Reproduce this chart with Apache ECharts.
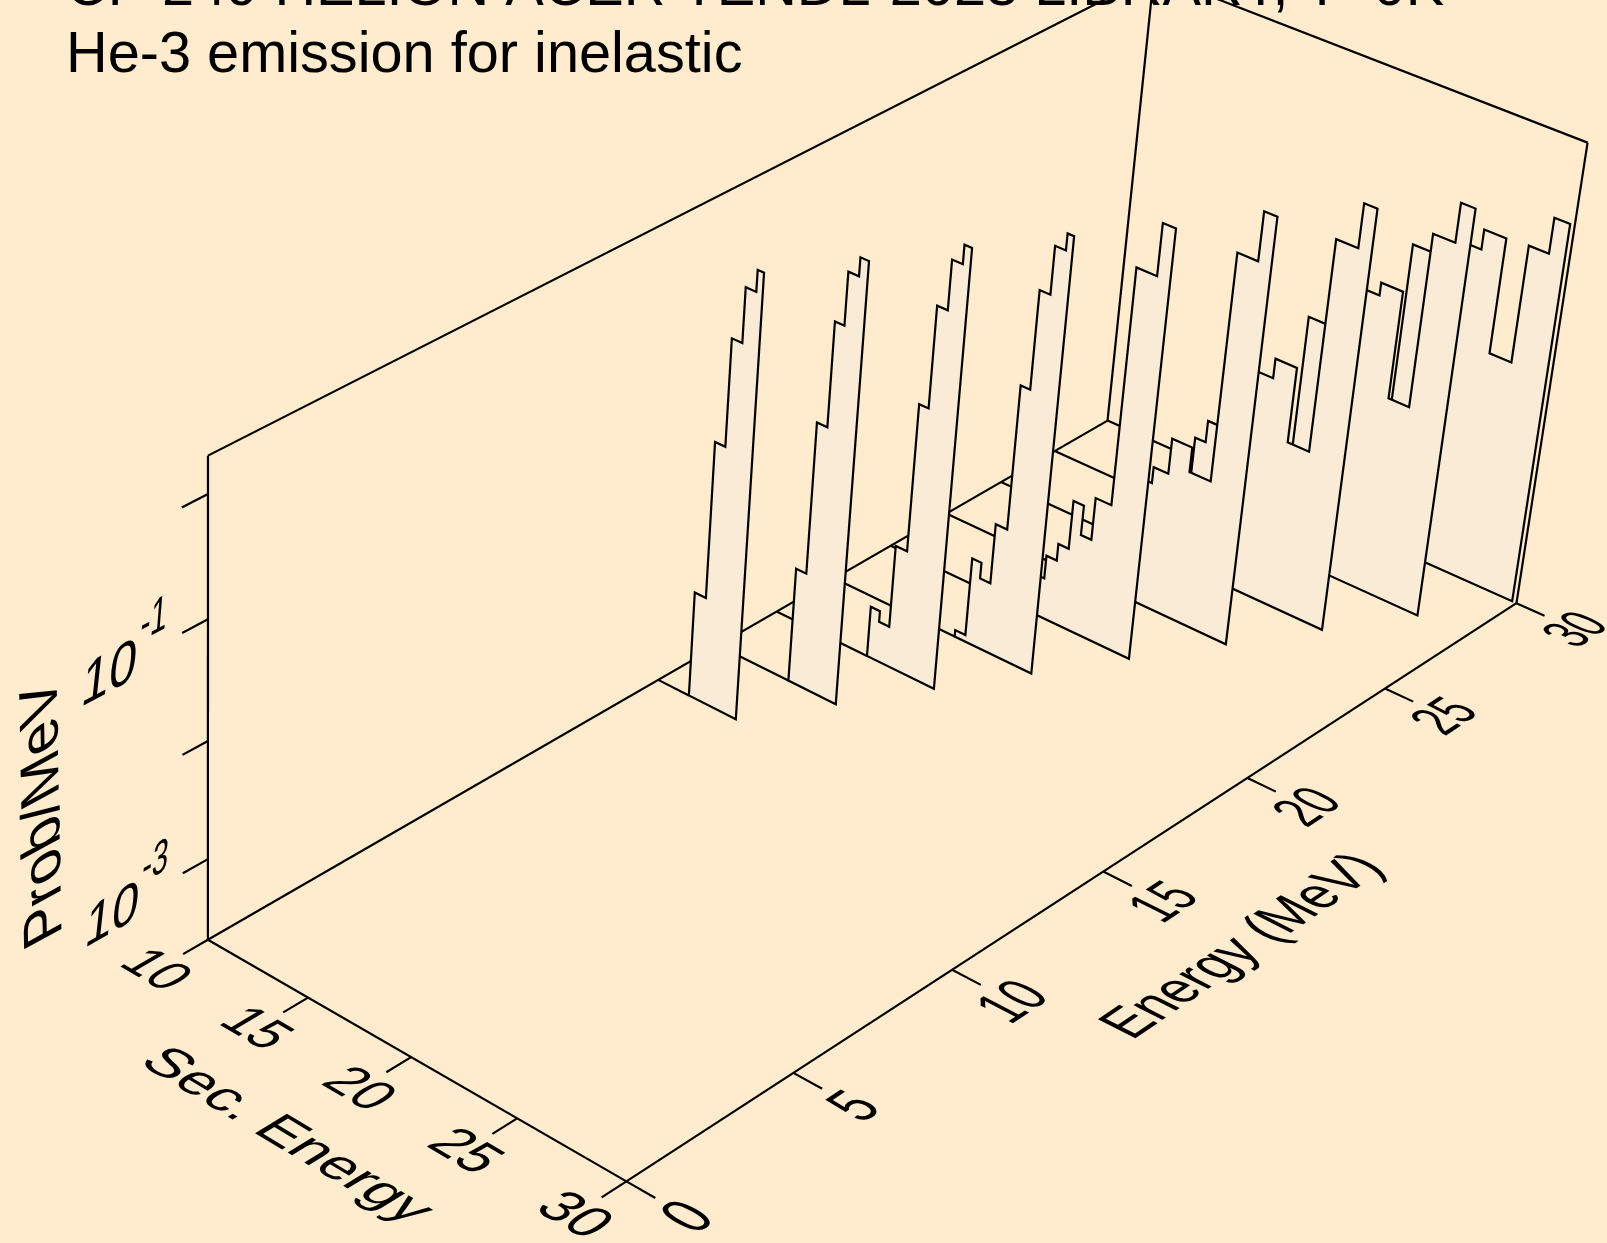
<!DOCTYPE html>
<html><head><meta charset="utf-8"><style>html,body{margin:0;padding:0;background:#FFEBCD}#c{width:1607px;height:1243px}</style>
<script src="https://cdn.jsdelivr.net/npm/echarts@6/dist/echarts.min.js"></script></head>
<body><div id="c"></div>
<script>
const titleLines = ['CF-249 HELION ACER TENDL-2023 LIBRARY, T=0K', 'He-3 emission for inelastic'];
const energyTicks = [0, 5, 10, 15, 20, 25, 30];
const secTicks = [10, 15, 20, 25, 30];
const probTicks = [1e-3, 1e-2, 1e-1, 1];
const probLabels = [[1e-3, '10', '-3'], [1e-1, '10', '-1']];
const energyRange = [0, 30];
const secRange = [10, 30];
const probRange = [2e-4, 2];
const energies = [14, 16, 18, 20, 22, 24, 26, 28, 30];

const edges14 = [11.55, 12.1, 12.6, 13.1, 13.6, 13.9];
const prob14 = [1.66e-3, 3.72e-2, 0.302, 0.871, 1.318];
const edges16 = [13.55, 14.05, 14.55, 15.0, 15.5, 15.9];
const prob16 = [2.0e-3, 4.07e-2, 0.316, 0.881, 1.259];
const edges18 = [14.55, 15.0, 15.5, 16.05, 16.5, 17.0, 17.5, 17.85];
const prob18 = [5.56e-4, 4.47e-4, 2.34e-3, 4.42e-2, 0.324, 0.851, 1.23];
const edges20 = [16.05, 16.55, 17.0, 17.5, 18.05, 18.5, 19.0, 19.5, 19.8];
const prob20 = [2.29e-4, 1.12e-3, 8.13e-4, 2.72e-3, 4.84e-2, 0.335, 0.851, 1.175];
const edges22 = [17.0, 17.5, 18.0, 18.5, 19.0, 19.5, 20.25, 21.2, 21.8];
const prob22 = [4.47e-4, 7.16e-4, 1.01e-3, 2.69e-3, 1.48e-3, 3.47e-3, 0.38, 1.047];
const edges24 = [19.1, 19.6, 20.3, 21.25, 22.25, 23.2, 23.8];
const prob24 = [2.45e-3, 3.39e-3, 6.92e-3, 4.22e-3, 0.389, 1.012];
const edges26 = [18.5, 19.0, 19.5, 20.2, 21.2, 22.2, 23.2, 24.2, 25.2, 25.8];
const prob26 = [1.0e-3, 2.85e-3, 4.42e-3, 1.0e-2, 1.74e-2, 2.57e-2, 5.75e-3, 0.385, 0.912];
const edges28 = [20.2, 21.2, 22.2, 23.2, 24.2, 25.2, 26.15, 27.15, 27.8];
const prob28 = [1.26e-3, 2.63e-2, 4.47e-2, 6.92e-2, 8.91e-2, 1.06e-2, 0.327, 0.708];
const edges30 = [22.2, 23.2, 24.2, 25.2, 26.2, 27.2, 28.2, 29.1, 29.8];
const prob30 = [1.58e-3, 8.61e-2, 0.107, 0.132, 0.195, 2.0e-2, 0.202, 0.407];
const spectra = [
  [edges14, prob14], [edges16, prob16], [edges18, prob18], [edges20, prob20], [edges22, prob22],
  [edges24, prob24], [edges26, prob26], [edges28, prob28], [edges30, prob30]
];

// perspective camera of the box (unit cube -> page pixels)
const CAM = [[1060.956171, 383.359573, -11.558949, 207.882194],
             [-457.922403, 175.265098, -509.703385, 939.778727],
             [0.145637, -0.056131, -0.05608, 1]];
const zMin = Math.log10(probRange[0]), zSpan = Math.log10(probRange[1]) - zMin;
function camera(E, S, Z) {
  const x = (E - energyRange[0]) / (energyRange[1] - energyRange[0]);
  const y = (S - secRange[0]) / (secRange[1] - secRange[0]);
  const z = (Z - zMin) / zSpan;
  const w = CAM[2][0] * x + CAM[2][1] * y + CAM[2][2] * z + CAM[2][3];
  return [(CAM[0][0] * x + CAM[0][1] * y + CAM[0][2] * z + CAM[0][3]) / w,
          (CAM[1][0] * x + CAM[1][1] * y + CAM[1][2] * z + CAM[1][3]) / w];
}
const INK = '#000', FILL = '#FAEBD7', LW = 2.2, FONT = 300;
const lg = Math.log10;
const seg = (api, a, b, lw) => ({ type: 'line', silent: true,
  shape: { x1: api.coord(camera(...a))[0], y1: api.coord(camera(...a))[1], x2: api.coord(camera(...b))[0], y2: api.coord(camera(...b))[1] },
  style: { stroke: INK, lineWidth: lw || LW, lineCap: 'butt' } });

// text lying in a plane of the box: baseline and up vectors per em, in data units
function warped(api, text, c, b, u, size) {
  const P = (p, k, v) => api.coord(camera(p[0] + k * v[0], p[1] + k * v[1], p[2] + k * v[2]));
  const o = api.coord(camera(...c));
  const b0 = P(c, -.5, b), b1 = P(c, .5, b), u0 = P(c, -.5, u), u1 = P(c, .5, u);
  const F = size || FONT;
  const m00 = (b1[0] - b0[0]) / F, m10 = (b1[1] - b0[1]) / F, m01 = -(u1[0] - u0[0]) / F, m11 = -(u1[1] - u0[1]) / F;
  const e = (m00 + m11) / 2, f = (m00 - m11) / 2, g = (m10 + m01) / 2, h = (m10 - m01) / 2;
  const q = Math.hypot(e, h), r = Math.hypot(f, g);
  const a1 = Math.atan2(g, f), a2 = Math.atan2(h, e);
  return { type: 'group', x: o[0], y: o[1], rotation: -(a2 + a1) / 2, scaleX: q + r, scaleY: q - r, silent: true,
    children: [{ type: 'text', rotation: -(a2 - a1) / 2, silent: true,
      style: { text, x: 0, y: 0, font: F + 'px "Liberation Sans"', fill: INK, align: 'center', verticalAlign: 'middle' } }] };
}
const Z0 = lg(probRange[0]), Z1 = lg(probRange[1]);
const E0 = energyRange[0], E1 = energyRange[1], S0 = secRange[0], S1 = secRange[1];

function frameItem(params, api) {
  return { type: 'group', children: [
    seg(api, [E0, S0, Z0], [E0, S1, Z0]), seg(api, [E0, S1, Z0], [E1, S1, Z0]), seg(api, [E0, S0, Z0], [E1, S0, Z0]),
    seg(api, [E0, S0, Z0], [E0, S0, Z1]), seg(api, [E0, S0, Z1], [E1, S0, Z1]), seg(api, [E1, S0, Z0], [E1, S0, Z1]),
    seg(api, [E1, S0, Z1], [E1, S1, Z1]), seg(api, [E1, S1, Z0], [E1, S1, Z1])
  ] };
}
function spectrumItem(idx) {
  return function (params, api) {
    const E = energies[idx], ed = spectra[idx][0], pr = spectra[idx][1];
    const P = (s, z) => api.coord(camera(E, s, z));
    const pts = [P(ed[0], Z0)];
    pr.forEach((v, i) => { pts.push(P(ed[i], lg(v))); pts.push(P(ed[i + 1], lg(v))); });
    pts.push(P(ed[ed.length - 1], Z0));
    return { type: 'group', children: [
      seg(api, [E, S0, Z0], [E, ed[0], Z0]),
      { type: 'polygon', silent: true, shape: { points: pts }, style: { fill: FILL, stroke: INK, lineWidth: LW, lineJoin: 'miter', miterLimit: 4 } }
    ] };
  };
}
function axisItem(params, api) {
  const ch = [];
  energyTicks.forEach(e => {
    ch.push(seg(api, [e, S1, Z0], [e, S1 + 1.3, Z0]));
    ch.push(warped(api, String(e), [e, S1 + 2.85, Z0], [1.22, 0, 0], [0, -2.55, 0]));
  });
  secTicks.forEach(s => {
    ch.push(seg(api, [E0, s, Z0], [E0 - .72, s, Z0]));
    ch.push(warped(api, String(s), [E0 - 1.55, s, Z0], [0, 2.15, 0], [1.38, 0, 0]));
  });
  probTicks.forEach(p => ch.push(seg(api, [E0, S0, lg(p)], [E0 - .72, S0, lg(p)])));
  probLabels.forEach(l => {
    ch.push(warped(api, l[1], [E0 - 2.73, S0, lg(l[0]) - .03], [1.35, 0, 0], [.2, 0, .47]));
    ch.push(warped(api, l[2], [E0 - 1.5, S0, lg(l[0]) + .22], [.82, 0, 0], [.12, 0, .39]));
  });
  ch.push(warped(api, 'Sec. Energy', [E0 - 3.64, 20.1, Z0], [0, 2.38, 0], [1.3, 0, 0]));
  ch.push(warped(api, 'Energy (MeV)', [14.87, S1 + 6.48, Z0], [1.4, 0, 0], [0, -2.4, 0]));
  ch.push(warped(api, 'Prob/MeV', [E0 - 4.54, S0, -1.845], [0, 0, .48], [-1.47, 0, 0]));
  return { type: 'group', children: ch };
}
const custom = (name, renderItem, z) => ({ type: 'custom', name, renderItem, data: [[0, 0]], coordinateSystem: 'cartesian2d',
  clip: false, silent: true, animation: false, z });
const series = [custom('frame', frameItem, 1)];
for (let i = energies.length - 1; i >= 0; i--) series.push(custom('E=' + energies[i] + ' MeV', spectrumItem(i), 2 + energies.length - i));
series.push(custom('axes', axisItem, 30));

const chart = echarts.init(document.getElementById('c'), null, { renderer: 'canvas', width: 1607, height: 1243 });
chart.setOption({
  backgroundColor: '#FFEBCD', animation: false,
  title: { text: titleLines.join('\n'), left: 66, top: -44, padding: 0, textStyle: { fontFamily: 'Liberation Sans', fontSize: 57.7, fontWeight: 'normal', color: '#000', lineHeight: 66.7 } },
  grid: { left: 0, right: 0, top: 0, bottom: 0, containLabel: false },
  xAxis: { type: 'value', min: 0, max: 1607, show: false },
  yAxis: { type: 'value', min: 0, max: 1243, inverse: true, show: false },
  tooltip: { show: false },
  series
});
</script></body></html>
